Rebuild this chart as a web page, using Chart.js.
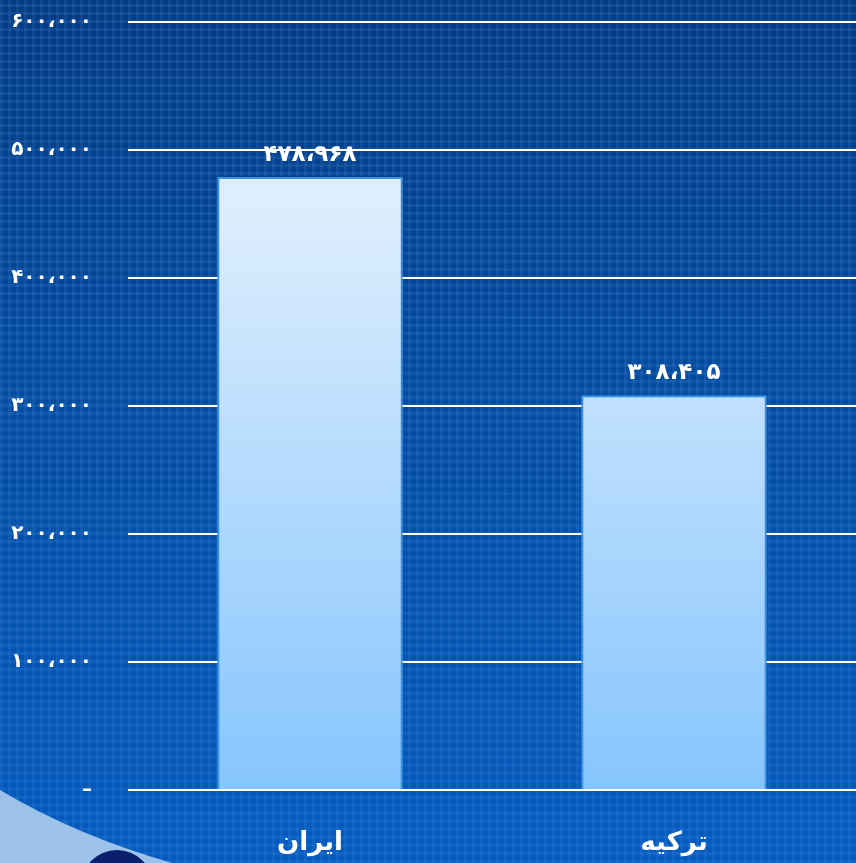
<!DOCTYPE html>
<html lang="fa">
<head>
<meta charset="utf-8">
<script src="https://cdn.jsdelivr.net/npm/chart.js@4.4.0/dist/chart.umd.min.js"></script>
<style>
    html, body { margin: 0; padding: 0; }
    body {
        width: 856px;
        height: 863px;
        overflow: hidden;
        background-color: #0a4a9e;
        background-image:
            repeating-linear-gradient(90deg, rgba(120,170,255,0.11) 0 3px, transparent 3px 8px),
            repeating-linear-gradient(0deg, rgba(120,170,255,0.11) 0 3px, transparent 3px 8px),
            linear-gradient(180deg, #033b82 0%, #034c9f 45%, #035bbf 100%);
    }
    #wrap { position: relative; width: 856px; height: 863px; }
</style>
</head>
<body>
<div id="wrap"><canvas id="chart"></canvas></div>
<script>
const countries = ['ایران', 'ترکیه'];
const values = [478968, 308405];
const yTicks = [0, 100000, 200000, 300000, 400000, 500000, 600000];

// latin digits -> persian digits, thousands with arabic comma
const toFa = n => {
    if (n === 0) return '–';
    const s = Math.round(n).toString().replace(/\B(?=(\d{3})+(?!\d))/g, '،');
    return s.replace(/\d/g, d => '۰۱۲۳۴۵۶۷۸۹'[d]);
};

const FONT = '"DejaVu Sans", sans-serif';

// bottom-left decoration (light swoosh + dark circle)
const decoPlugin = {
    id: 'deco',
    beforeDraw(chart) {
        const ctx = chart.ctx;
        ctx.save();
        ctx.fillStyle = '#9cc2ea';
        ctx.beginPath();
        ctx.moveTo(0, 790);
        ctx.quadraticCurveTo(75, 835, 172, 863);
        ctx.lineTo(0, 863);
        ctx.closePath();
        ctx.fill();
        ctx.fillStyle = '#0a1f6e';
        ctx.beginPath();
        ctx.arc(117, 886, 36, 0, Math.PI * 2);
        ctx.fill();
        ctx.restore();
    }
};

// value labels above the bars
const valueLabels = {
    id: 'valueLabels',
    afterDatasetsDraw(chart) {
        const ctx = chart.ctx;
        const meta = chart.getDatasetMeta(0);
        ctx.save();
        ctx.fillStyle = '#ffffff';
        ctx.font = 'bold 23px ' + FONT;
        ctx.textAlign = 'center';
        ctx.textBaseline = 'middle';
        meta.data.forEach((bar, i) => {
            ctx.fillText(toFa(values[i]), bar.x, bar.y - 22);
        });
        ctx.restore();
    }
};

const ctx = document.getElementById('chart');

new Chart(ctx, {
    type: 'bar',
    data: {
        labels: countries,
        datasets: [{
            data: values,
            backgroundColor: (c) => {
                const area = c.chart.chartArea;
                if (!area) return '#b0d8ff';
                const g = c.chart.ctx.createLinearGradient(0, area.top, 0, area.bottom);
                g.addColorStop(0, '#e2f1ff');
                g.addColorStop(0.25, '#dcedfd');
                g.addColorStop(1, '#86c5fd');
                return g;
            },
            borderColor: '#3a92e6',
            borderWidth: 2,
            borderSkipped: 'bottom',
            categoryPercentage: 1,
            barPercentage: 0.51
        }]
    },
    options: {
        responsive: true,
        maintainAspectRatio: false,
        animation: false,
        layout: { padding: { top: 22, left: 0, right: 0, bottom: 0 } },
        plugins: {
            legend: { display: false },
            tooltip: { enabled: false }
        },
        scales: {
            x: {
                grid: { display: false },
                border: { display: false },
                ticks: {
                    color: '#ffffff',
                    font: { family: FONT, size: 26, weight: 'bold' },
                    padding: 30
                },
                afterFit: (scale) => {
                    scale.height = 73;
                    scale.paddingLeft = 0;
                    scale.paddingRight = 0;
                }
            },
            y: {
                min: 0,
                max: 600000,
                afterBuildTicks: (scale) => {
                    scale.ticks = yTicks.map(v => ({ value: v }));
                },
                grid: {
                    color: '#ffffff',
                    lineWidth: 2,
                    drawTicks: false
                },
                border: { display: false },
                ticks: {
                    color: '#ffffff',
                    font: { family: FONT, size: 20, weight: 'bold' },
                    padding: 36,
                    crossAlign: 'near',
                    callback: (v) => toFa(v)
                },
                afterFit: (scale) => {
                    scale.width = 128;
                    scale.paddingTop = 0;
                    scale.paddingBottom = 0;
                }
            }
        }
    },
    plugins: [decoPlugin, valueLabels]
});
</script>
</body>
</html>
